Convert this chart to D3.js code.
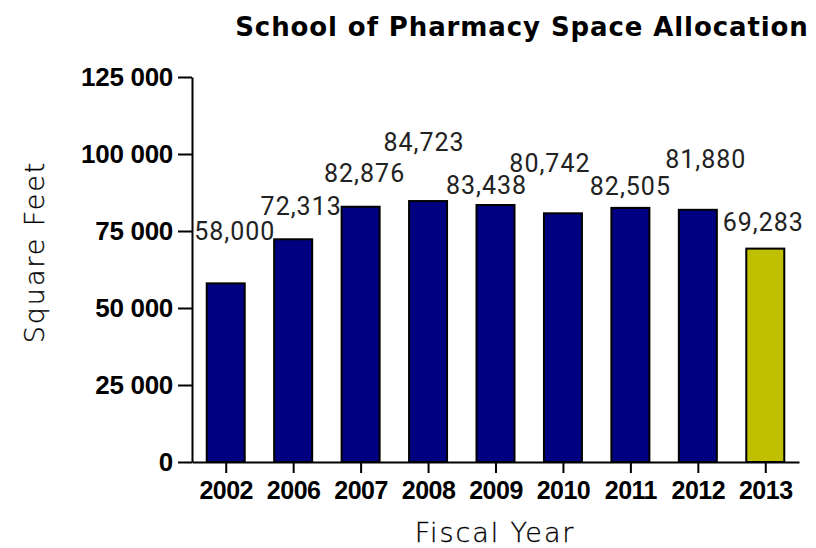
<!DOCTYPE html>
<html>
<head>
<meta charset="utf-8">
<script src="https://cdn.jsdelivr.net/npm/d3@7"></script>
<style>
  html, body { margin: 0; padding: 0; background: #fff; }
  svg { display: block; }
</style>
</head>
<body>
<svg id="chart" width="816" height="548"></svg>
<script>
// ---- data ----
const years = ["2002", "2006", "2007", "2008", "2009", "2010", "2011", "2012", "2013"];
const squareFeet = [58000, 72313, 82876, 84723, 83438, 80742, 82505, 81880, 69283];
const yTicks = [0, 25000, 50000, 75000, 100000, 125000];
const highlightYear = "2013";

// ---- layout (styling only) ----
const labelNudge = [[9, -43], [8, -24], [4, -25], [-4, -50], [-9, -11], [-13, -41], [0, -13], [8, -42], [-2, -18]];

(function () {
const svg = d3.select("#chart");
const pLeft = 192, pRight = 799, pTop = 77, pBottom = 462;

const x = d3.scalePoint().domain(years).range([pLeft, pRight]).padding(0.5);
const y = d3.scaleLinear().domain([0, 125000]).range([pBottom, pTop]);
const barW = 38;

const locale = d3.formatLocale({ decimal: ".", thousands: " ", grouping: [3], currency: ["", ""] });
const fmtTick = locale.format(",");
const fmtVal = d3.format(",");

// title
svg.append("text")
  .attr("x", 522).attr("y", 36)
  .attr("text-anchor", "middle")
  .attr("font-family", "'DejaVu Sans', sans-serif")
  .attr("font-weight", "bold")
  .attr("font-size", 26)
  .attr("letter-spacing", 0.9)
  .attr("fill", "#000")
  .text("School of Pharmacy Space Allocation");

const rows = years.map((yr, i) => ({ yr, v: squareFeet[i], i }));

// bars
svg.append("g").selectAll("rect")
  .data(rows)
  .join("rect")
  .attr("x", d => x(d.yr) - barW / 2)
  .attr("y", d => y(d.v))
  .attr("width", barW)
  .attr("height", d => y(0) - y(d.v))
  .attr("fill", d => d.yr === highlightYear ? "#C0C000" : "#000080")
  .attr("stroke", "#000")
  .attr("stroke-width", 2);

// value labels
svg.append("g").selectAll("text")
  .data(rows)
  .join("text")
  .attr("x", d => x(d.yr) + labelNudge[d.i][0])
  .attr("y", d => y(d.v) + labelNudge[d.i][1])
  .attr("text-anchor", "middle")
  .attr("font-family", "Roboto, sans-serif")
  .attr("font-size", 25)
  .attr("letter-spacing", 1)
  .attr("fill", "#222")
  .text(d => fmtVal(d.v));

// y axis
const yAxis = svg.append("g")
  .attr("transform", `translate(${pLeft},0)`)
  .call(d3.axisLeft(y).tickValues(yTicks).tickFormat(fmtTick).tickSize(14).tickSizeOuter(0).tickPadding(5));
yAxis.select(".domain").attr("stroke", "#000").attr("stroke-width", 2);
yAxis.selectAll(".tick line").attr("stroke", "#000").attr("stroke-width", 2);
yAxis.selectAll(".tick text")
  .attr("font-family", "'Liberation Sans', Arial, sans-serif")
  .attr("font-weight", "bold")
  .attr("font-size", 26)
  .attr("letter-spacing", -0.3)
  .attr("fill", "#000");

// x axis
const xAxis = svg.append("g")
  .attr("transform", `translate(0,${pBottom})`)
  .call(d3.axisBottom(x).tickSize(11).tickSizeOuter(0).tickPadding(8));
xAxis.select(".domain").attr("stroke", "#000").attr("stroke-width", 2);
xAxis.selectAll(".tick line").attr("stroke", "#000").attr("stroke-width", 2);
xAxis.selectAll(".tick text")
  .attr("font-family", "'Liberation Sans', Arial, sans-serif")
  .attr("font-weight", "bold")
  .attr("font-size", 25)
  .attr("letter-spacing", -0.5)
  .attr("fill", "#000");

// axis titles
svg.append("text")
  .attr("x", 495).attr("y", 542)
  .attr("text-anchor", "middle")
  .attr("font-family", "'DejaVu Sans', sans-serif")
  .attr("font-weight", 200)
  .attr("font-size", 27)
  .attr("letter-spacing", 1.9)
  .attr("fill", "#000")
  .attr("stroke", "#000")
  .attr("stroke-width", 0.3)
  .text("Fiscal Year");

svg.append("text")
  .attr("transform", "translate(44,252) rotate(-90)")
  .attr("text-anchor", "middle")
  .attr("font-family", "'DejaVu Sans', sans-serif")
  .attr("font-weight", 200)
  .attr("font-size", 27)
  .attr("letter-spacing", 1.9)
  .attr("fill", "#000")
  .attr("stroke", "#000")
  .attr("stroke-width", 0.3)
  .text("Square Feet");
})();
</script>
</body>
</html>
